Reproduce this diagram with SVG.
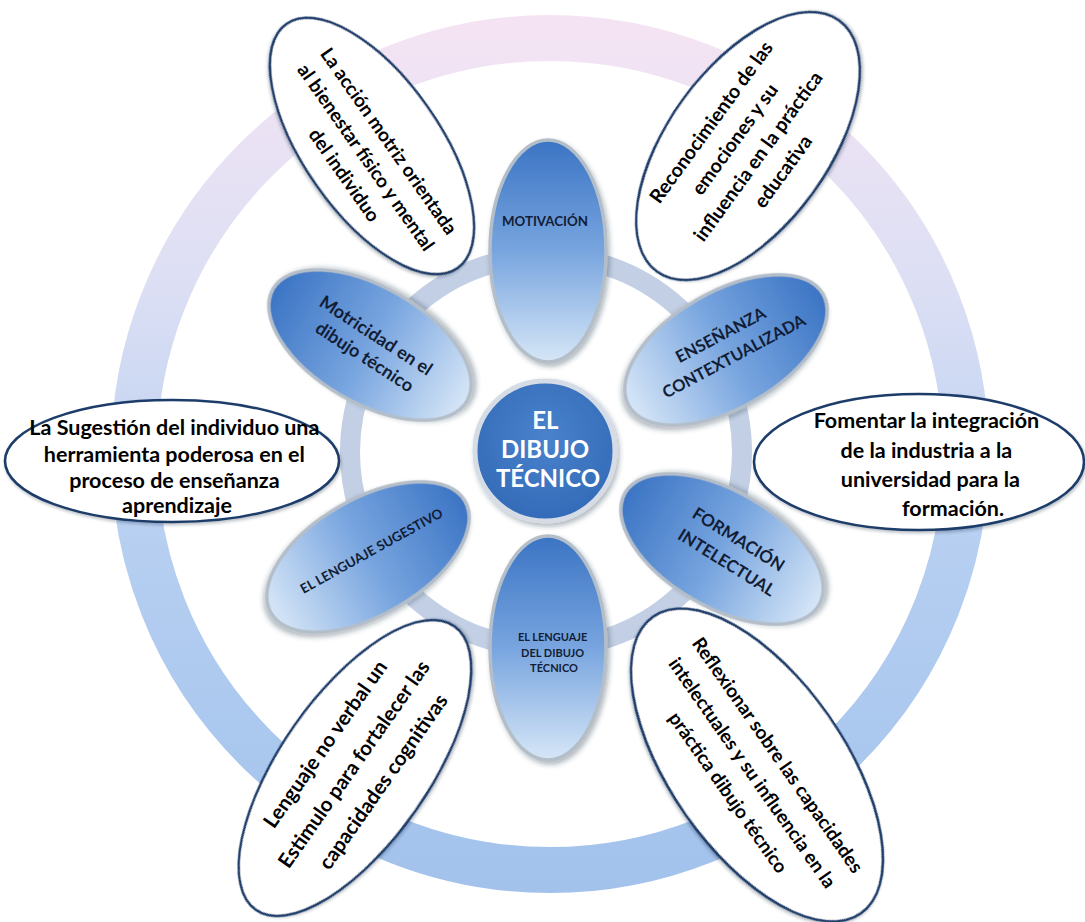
<svg xmlns="http://www.w3.org/2000/svg" width="1085" height="922" viewBox="0 0 1085 922">
<defs>
  <linearGradient id="ringG" gradientUnits="userSpaceOnUse" x1="0" y1="30" x2="0" y2="890">
    <stop offset="0" stop-color="#f4e4f3"/>
    <stop offset="0.3" stop-color="#dcdff4"/>
    <stop offset="0.6" stop-color="#b6cff1"/>
    <stop offset="1" stop-color="#a2c2ec"/>
  </linearGradient>
  <linearGradient id="petalG" x1="0" y1="0" x2="0" y2="1">
    <stop offset="0" stop-color="#3b74c4"/>
    <stop offset="0.5" stop-color="#78a5df"/>
    <stop offset="1" stop-color="#d6e6f7"/>
  </linearGradient>
  <radialGradient id="hubG" cx="0.5" cy="0.4" r="0.6">
    <stop offset="0" stop-color="#4a82cc"/>
    <stop offset="1" stop-color="#336bb8"/>
  </radialGradient>
  <filter id="sh" x="-20%" y="-20%" width="140%" height="140%">
    <feDropShadow dx="2" dy="3" stdDeviation="2.5" flood-color="#203040" flood-opacity="0.35"/>
  </filter>
  <filter id="bsh" x="-10%" y="-10%" width="120%" height="120%">
    <feDropShadow dx="1" dy="2" stdDeviation="1.5" flood-color="#203040" flood-opacity="0.3"/>
  </filter>
</defs>
<style>
  .ring-outer { fill: none; stroke: url(#ringG); stroke-width: 46; }
  .ring-inner { fill: none; stroke: #c3cfe4; stroke-width: 20; }
  .petal { fill: url(#petalG); stroke: #b4bec9; stroke-width: 3.5; filter: url(#sh); }
  .bubble { fill: #ffffff; stroke: #1d3c6a; stroke-width: 2.6; filter: url(#bsh); }
  .pt { font-family: Lato, "Liberation Sans", sans-serif; font-weight: 700; fill: #121d36; text-anchor: middle; }
  .bt { font-family: Lato, "Liberation Sans", sans-serif; font-weight: 700; fill: #000000; text-anchor: middle; }
  .ht { font-family: Lato, "Liberation Sans", sans-serif; font-weight: 700; fill: #ffffff; text-anchor: middle; font-size: 24px; }
</style>

<g id="rings">
  <circle class="ring-outer" cx="550" cy="454" r="416"/>
  <circle class="ring-inner" cx="546" cy="452" r="196"/>
</g>

<g id="connectors"></g>

<!-- outer bubbles -->
<g id="bubble-accion" transform="translate(372,146) rotate(55)">
  <ellipse class="bubble" cx="0" cy="0" rx="149" ry="68"/>
  <text class="bt" font-size="19">
    <tspan x="8" y="-10">La acción  motriz orientada</tspan>
    <tspan x="8" y="18">al bienestar físico y mental</tspan>
    <tspan x="8" y="46">del individuo</tspan>
  </text>
</g>

<g id="bubble-emociones" transform="translate(748,146) rotate(-54)">
  <ellipse class="bubble" cx="0" cy="0" rx="155" ry="80"/>
  <text class="bt" font-size="19.5">
    <tspan x="0" y="-37">Reconocimiento de  las</tspan>
    <tspan x="0" y="-8">emociones  y su</tspan>
    <tspan x="0" y="21">influencia en la práctica</tspan>
    <tspan x="0" y="50">educativa</tspan>
  </text>
</g>

<g id="bubble-industria">
  <ellipse class="bubble" cx="919" cy="462" rx="165" ry="68"/>
  <text class="bt" font-size="21.5">
    <tspan x="929" y="428">Fomentar la integración</tspan>
    <tspan x="929" y="458">de la industria a la</tspan>
    <tspan x="933" y="487">universidad  para la</tspan>
    <tspan x="953" y="516">formación.</tspan>
  </text>
</g>

<g id="bubble-reflexionar" transform="translate(757,765) rotate(55)">
  <ellipse class="bubble" cx="0" cy="0" rx="181" ry="87"/>
  <text class="bt" font-size="19">
    <tspan x="6" y="-16">Reflexionar sobre las capacidades</tspan>
    <tspan x="6" y="15">intelectuales y su influencia en la</tspan>
    <tspan x="6" y="46">práctica  dibujo técnico</tspan>
  </text>
</g>

<g id="bubble-lenguaje" transform="translate(355,768) rotate(-55)">
  <ellipse class="bubble" cx="0" cy="0" rx="173" ry="74"/>
  <text class="bt" font-size="20.5">
    <tspan x="5" y="-31">Lenguaje no verbal un</tspan>
    <tspan x="5" y="4">Estimulo para fortalecer las</tspan>
    <tspan x="5" y="38">capacidades cognitivas</tspan>
  </text>
</g>

<g id="bubble-sugestion">
  <ellipse class="bubble" cx="172" cy="461" rx="167" ry="61"/>
  <text class="bt" font-size="21.5">
    <tspan x="177" y="435">La Sugestión del individuo una</tspan>
    <tspan x="177" y="462">herramienta poderosa en el</tspan>
    <tspan x="177" y="488">proceso de enseñanza</tspan>
    <tspan x="177" y="513">aprendizaje</tspan>
  </text>
</g>

<!-- petals -->
<g id="petal-motivacion">
  <ellipse class="petal" cx="548" cy="251" rx="58" ry="111"/>
  <text class="pt" x="545" y="226" font-size="13.3">MOTIVACIÓN</text>
</g>

<g id="petal-lenguaje-dibujo">
  <ellipse class="petal" cx="548" cy="648" rx="58" ry="112"/>
  <text class="pt" font-size="11">
    <tspan x="554" y="641">EL LENGUAJE</tspan>
    <tspan x="554" y="657">DEL DIBUJO</tspan>
    <tspan x="554" y="672">TÉCNICO</tspan>
  </text>
</g>

<g id="petal-motricidad" transform="translate(370,345)">
  <ellipse class="petal" cx="0" cy="0" rx="58" ry="112" transform="rotate(-60)"/>
  <text class="pt" font-size="18" transform="rotate(33)">
    <tspan x="2" y="-5">Motricidad en el</tspan>
    <tspan x="2" y="19">dibujo técnico</tspan>
  </text>
</g>

<g id="petal-ensenanza" transform="translate(726,350)">
  <ellipse class="petal" cx="0" cy="0" rx="58" ry="112" transform="rotate(60)"/>
  <text class="pt" font-size="16.5" transform="rotate(-28)">
    <tspan x="4" y="-10">ENSEÑANZA</tspan>
    <tspan x="4" y="15">CONTEXTUALIZADA</tspan>
  </text>
</g>

<g id="petal-formacion" transform="translate(722,549)">
  <ellipse class="petal" cx="0" cy="0" rx="58" ry="112" transform="rotate(-60)"/>
  <text class="pt" font-size="17" transform="rotate(32)">
    <tspan x="11" y="-11">FORMACIÓN</tspan>
    <tspan x="11" y="15">INTELECTUAL</tspan>
  </text>
</g>

<g id="petal-sugestivo" transform="translate(368,557)">
  <ellipse class="petal" cx="0" cy="0" rx="58" ry="112" transform="rotate(60)"/>
  <text class="pt" font-size="13.3" transform="rotate(-29)" x="6" y="1">EL LENGUAJE SUGESTIVO</text>
</g>

<!-- hub -->
<g id="hub">
  <circle cx="545" cy="451" r="70" fill="url(#hubG)" stroke="#d5dce6" stroke-width="5" filter="url(#sh)"/>
  <text class="ht">
    <tspan x="548" y="429">EL</tspan>
    <tspan x="548" y="458">DIBUJO</tspan>
    <tspan x="548" y="487">TÉCNICO</tspan>
  </text>
</g>
</svg>
